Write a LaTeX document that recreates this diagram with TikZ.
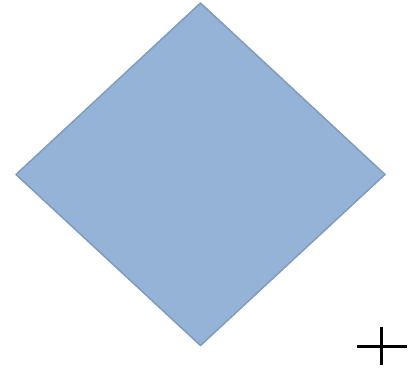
\documentclass[tikz,border=0pt]{standalone}
\definecolor{dfill}{RGB}{149,179,215}
\definecolor{dline}{RGB}{128,155,192}
\tikzset{
  diamondshape/.style={fill=dfill, draw=dline, line width=1.5pt, line join=round},
  plusline/.style={draw=black, line width=2.4pt}
}
\begin{document}
\begin{tikzpicture}[x=1pt,y=-1pt]
\useasboundingbox (0,0) rectangle (409,372);
\coordinate (top) at (200.5,3);
\coordinate (left) at (16,174.5);
\coordinate (bottom) at (200.5,345.5);
\coordinate (right) at (385,174.5);
\draw[diamondshape] (top) -- (right) -- (bottom) -- (left) -- cycle;
\coordinate (pt) at (381.5,327);
\coordinate (pb) at (381.5,365);
\coordinate (pl) at (357,346.5);
\coordinate (pr) at (407,346.5);
\draw[plusline] (pt) -- (pb);
\draw[plusline] (pl) -- (pr);
\end{tikzpicture}
\end{document}
